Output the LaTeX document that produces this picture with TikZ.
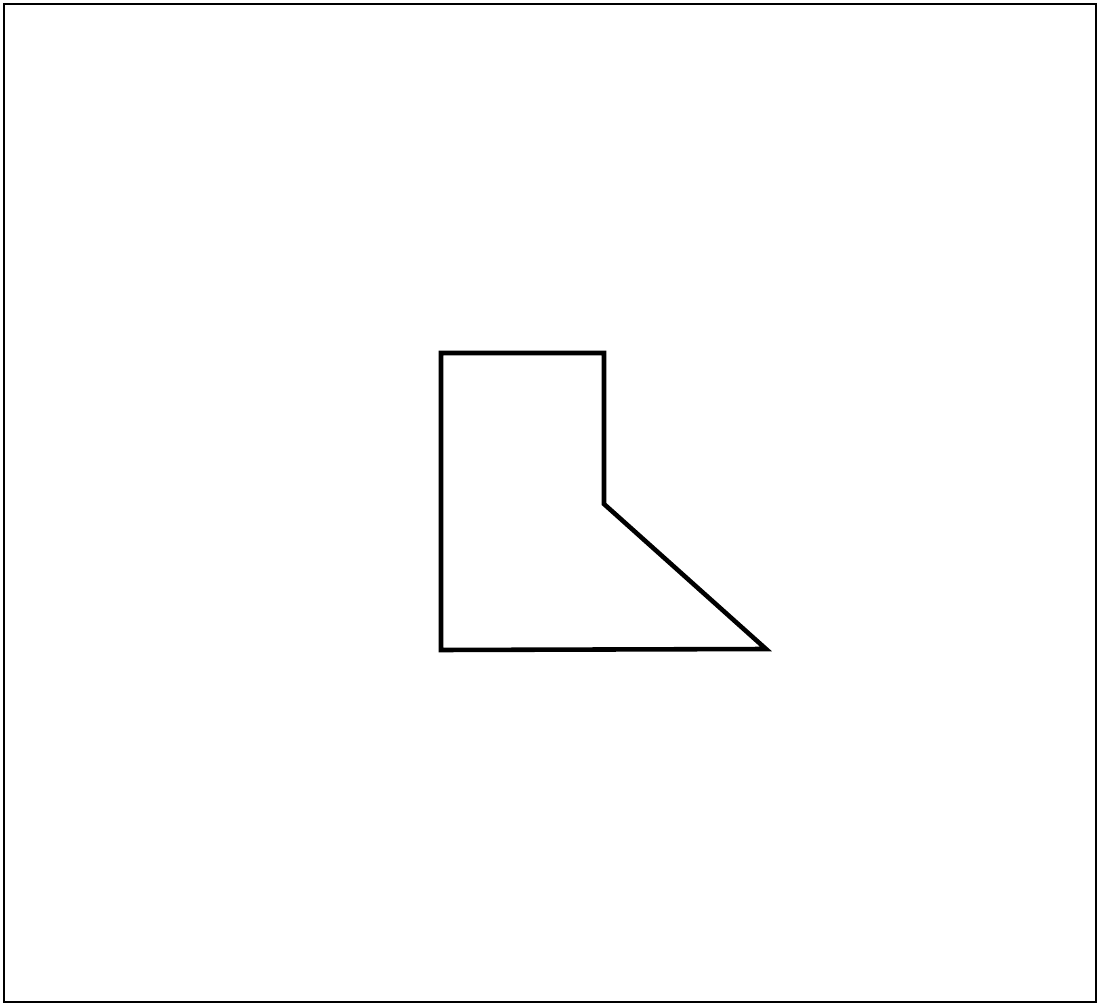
\documentclass[tikz,border=0pt]{standalone}
\begin{document}
\begin{tikzpicture}[x=0.01cm,y=-0.01cm,
  frame/.style={draw=black,line width=0.85pt},
  shapeline/.style={draw=black,line width=1.3pt,line join=miter}]
\useasboundingbox (0,0) rectangle (1099,1006);
\fill[white] (0,0) rectangle (1099,1006);
\draw[frame] (4,4) rectangle (1096,1002);
\coordinate (p1) at (441,353);
\coordinate (p2) at (604,353);
\coordinate (p3) at (604,504);
\coordinate (p4) at (766,649);
\coordinate (p5) at (441,650);
\draw[shapeline] (p1) -- (p2) -- (p3) -- (p4) -- (p5) -- cycle;
\end{tikzpicture}
\end{document}
